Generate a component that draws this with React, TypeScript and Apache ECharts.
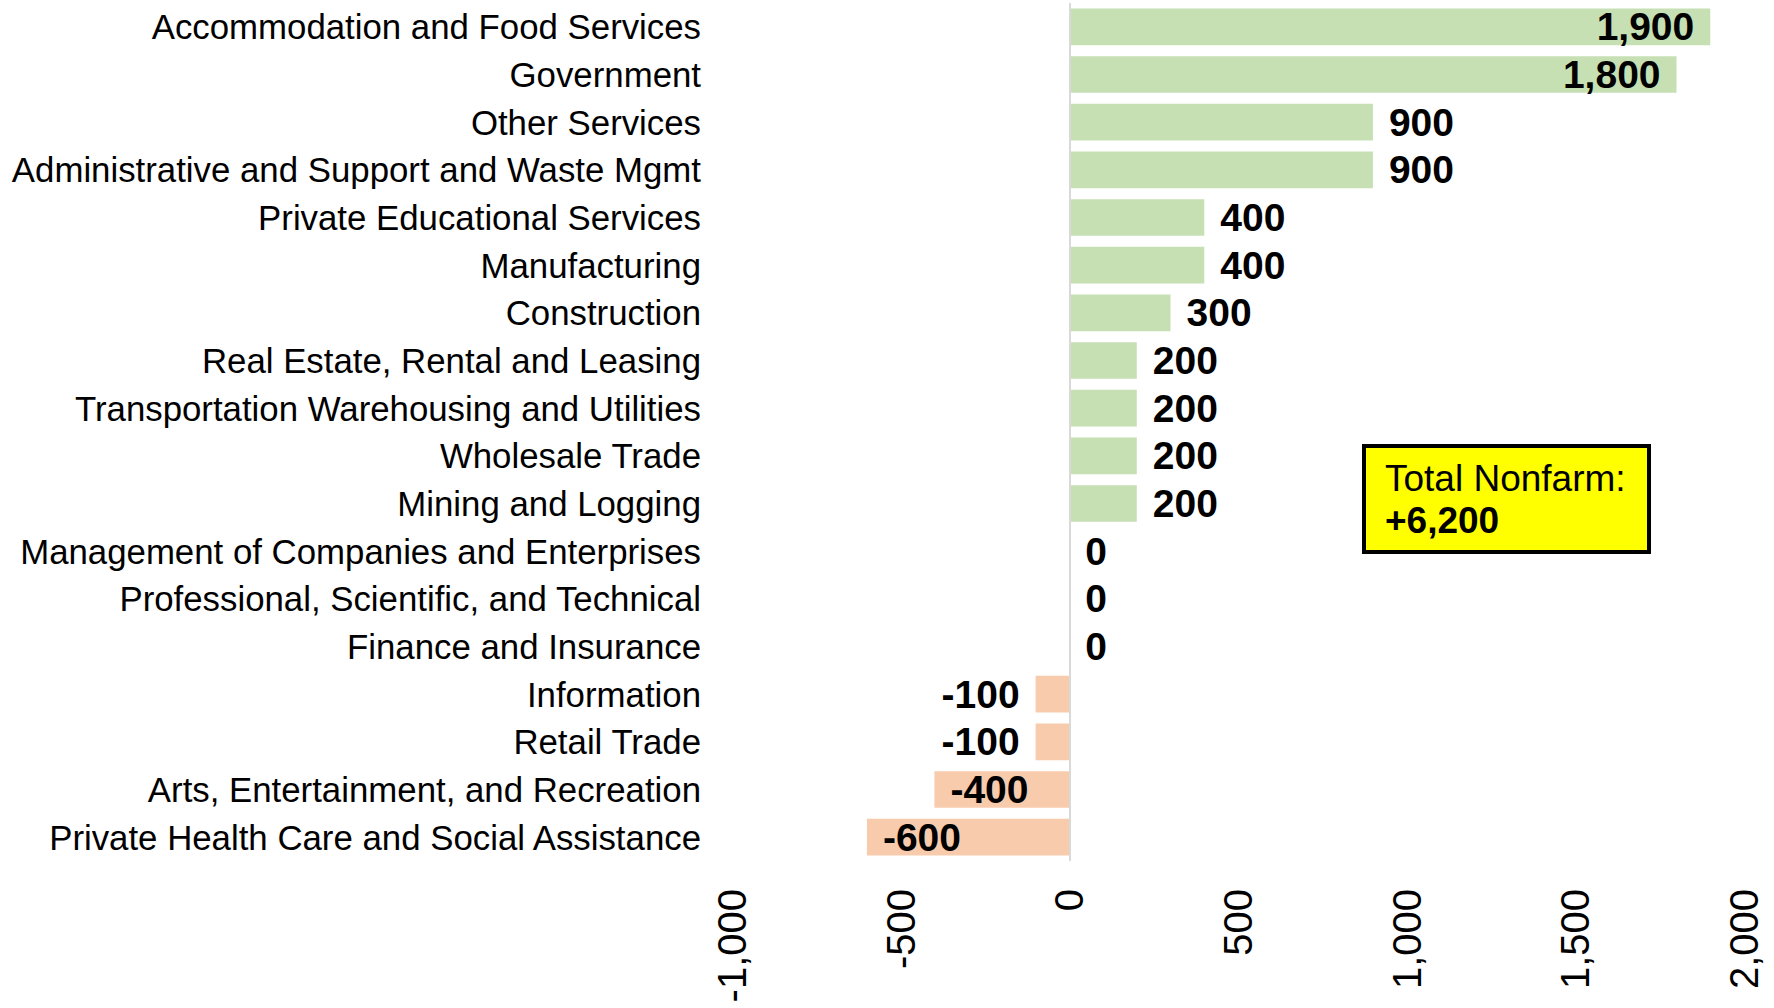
import React, { useEffect, useRef } from "react";
import * as echarts from "echarts";

const categories: string[] = [
  "Accommodation and Food Services",
  "Government",
  "Other Services",
  "Administrative and Support and Waste Mgmt",
  "Private Educational Services",
  "Manufacturing",
  "Construction",
  "Real Estate, Rental and Leasing",
  "Transportation Warehousing and Utilities",
  "Wholesale Trade",
  "Mining and Logging",
  "Management of Companies and Enterprises",
  "Professional, Scientific, and Technical",
  "Finance and Insurance",
  "Information",
  "Retail Trade",
  "Arts, Entertainment, and Recreation",
  "Private Health Care and Social Assistance",
];

const values: number[] = [
  1900, 1800, 900, 900, 400, 400, 300, 200, 200, 200, 200, 0, 0, 0, -100, -100, -400, -600,
];

const xTicks = { min: -1000, max: 2000, interval: 500 };
const totalTitle = "Total Nonfarm:";
const totalValue = "+6,200";

const POS_COLOR = "#C6E0B4";
const NEG_COLOR = "#F8CBAD";
const FONT = "'Liberation Sans', Arial, Helvetica, sans-serif";

const fmt = (v: number) => v.toLocaleString("en-US");

export default function App() {
  const ref = useRef<HTMLDivElement>(null);

  useEffect(() => {
    if (!ref.current) return;
    const chart = echarts.init(ref.current, null, { renderer: "svg" });

    const data = values.map((v) => {
      let position = v < 0 ? "left" : "right";
      if (v >= 1500) position = "insideRight";
      if (v <= -400) position = "insideLeft";
      return {
        value: v,
        itemStyle: { color: v < 0 ? NEG_COLOR : POS_COLOR },
        label: { position, distance: 16 },
      };
    });

    chart.setOption({
      animation: false,
      backgroundColor: "#ffffff",
      textStyle: { fontFamily: FONT },
      grid: {
        left: 732,
        right: 30,
        top: 3,
        bottom: 147,
        containLabel: false,
        outerBoundsMode: "none",
      },
      xAxis: {
        type: "value",
        min: xTicks.min,
        max: xTicks.max,
        interval: xTicks.interval,
        splitLine: { show: false },
        axisLine: { show: false },
        axisTick: { show: false },
        axisLabel: {
          rotate: 90,
          fontSize: 40,
          color: "#000000",
          fontFamily: FONT,
          margin: 28,
          formatter: (v: number) => fmt(v),
        },
      },
      yAxis: {
        type: "category",
        data: categories,
        inverse: true,
        axisLine: { show: false, onZero: false },
        axisTick: { show: false },
        axisLabel: {
          fontSize: 34.8,
          color: "#000000",
          fontFamily: FONT,
          margin: 31,
        },
      },
      series: [
        {
          type: "bar",
          data,
          barCategoryGap: "23%",
          label: {
            show: true,
            fontSize: 39,
            fontWeight: "bold",
            color: "#000000",
            fontFamily: FONT,
            formatter: (p: any) => fmt(p.value),
          },
          markLine: {
            silent: true,
            symbol: ["none", "none"],
            label: { show: false },
            lineStyle: { color: "#D9D9D9", width: 2, type: "solid" },
            data: [{ xAxis: 0 }],
          },
        },
      ],
      graphic: [
        {
          type: "group",
          left: 1362,
          top: 444,
          children: [
            {
              type: "rect",
              shape: { x: 0, y: 0, width: 285, height: 106 },
              style: { fill: "#FFFF00", stroke: "#000000", lineWidth: 4 },
            },
            {
              type: "text",
              x: 21,
              y: 14,
              style: {
                text: totalTitle,
                font: `37px ${FONT}`,
                fill: "#000000",
              },
            },
            {
              type: "text",
              x: 21,
              y: 56,
              style: {
                text: totalValue,
                font: `bold 37px ${FONT}`,
                fill: "#000000",
              },
            },
          ],
        },
      ],
    });

    return () => chart.dispose();
  }, []);

  return (
    <div
      ref={ref}
      style={{ position: "fixed", left: 0, top: 0, width: 1774, height: 1008 }}
    />
  );
}
